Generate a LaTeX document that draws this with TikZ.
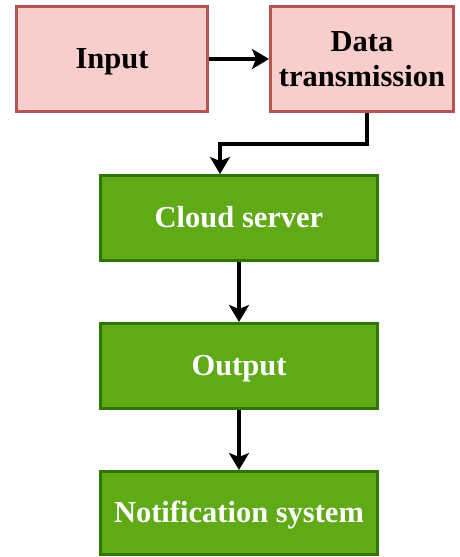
\documentclass[tikz,border=0pt]{standalone}
\usepackage{fontspec}
\setmainfont{Liberation Serif}
\usetikzlibrary{arrows.meta}
\definecolor{pinkfill}{HTML}{F8CECC}
\definecolor{pinkline}{HTML}{B85450}
\definecolor{greenfill}{HTML}{60A917}
\definecolor{greenline}{HTML}{2D7600}
\tikzset{
  boxbase/.style={line width=3pt, inner sep=0pt, align=center, text height=19pt, text depth=0pt,
    font=\fontsize{30.5}{35}\selectfont\bfseries},
  pinkbox/.style={boxbase, draw=pinkline, fill=pinkfill, text=black},
  greenbox/.style={boxbase, draw=greenline, fill=greenfill, text=white},
  arr/.style={draw=black, line width=3.2pt, -{Stealth[length=17pt, width=20pt, inset=4pt]}}
}
\begin{document}
\begin{tikzpicture}[x=1pt, y=-1pt]
\useasboundingbox (0,0) rectangle (460,557);
\node[pinkbox, minimum width=191pt, minimum height=105pt] (input) at (112,59) {Input};
\node[pinkbox, text height=54pt, minimum width=183pt, minimum height=105pt] (data) at (362,59) {Data\\transmission};
\node[greenbox, minimum width=277pt, minimum height=85pt] (cloud) at (239,218) {Cloud server};
\node[greenbox, minimum width=277pt, minimum height=85pt] (output) at (239,366) {Output};
\node[greenbox, minimum width=277pt, minimum height=83pt] (notif) at (239,513) {Notification system};
\draw[arr] (input.east) -- (data.west);
\draw[arr] ([xshift=5pt]data.south) -- ++(0,31) -| ([xshift=-19pt]cloud.north);
\draw[arr] (cloud.south) -- (output.north);
\draw[arr] (output.south) -- (notif.north);
\end{tikzpicture}
\end{document}
